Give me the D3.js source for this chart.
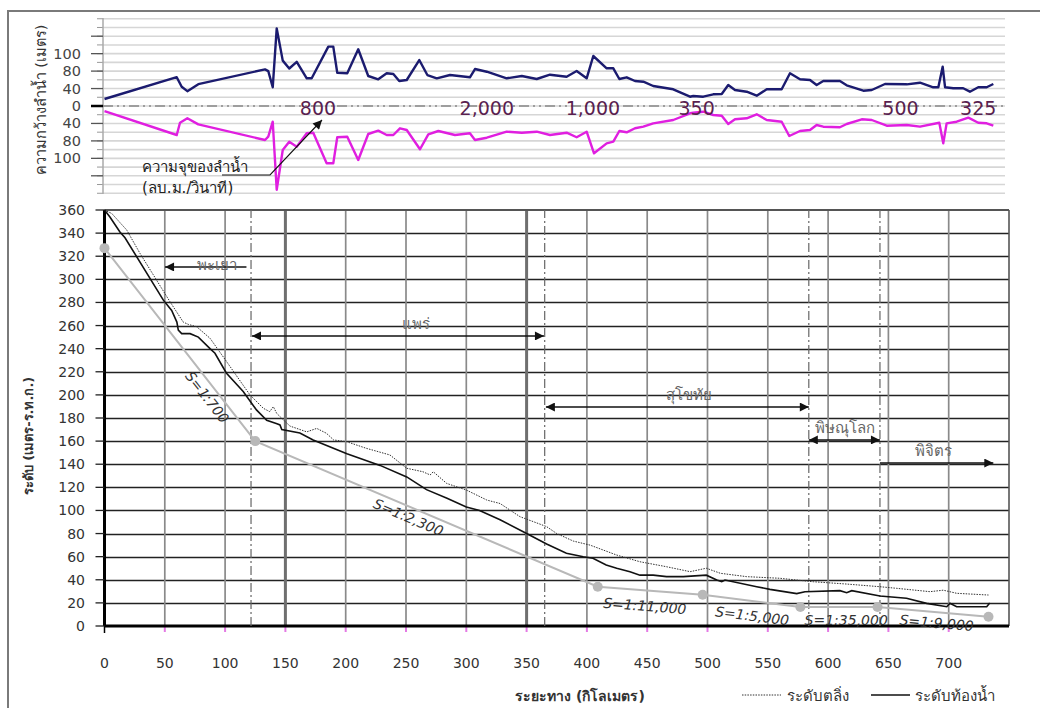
<!DOCTYPE html>
<html><head><meta charset="utf-8">
<script src="https://cdn.jsdelivr.net/npm/d3@7"></script>
<style>body{margin:0;background:#fff}svg{display:block}</style>
</head><body><svg id="c" width="1040" height="708"></svg>
<script>
// ---------- DATA ----------
// top panel: river width (upper, m) and lower mirrored series
const widthKm = [0,59.9,64,68.7,77.8,133.1,135.8,139.5,142.8,147.8,153.2,159.4,167.7,171.8,185.6,189.7,193,201.3,210.4,218.7,227,234,239.5,244.4,250.6,261,267.7,275.5,286.5,303,307.2,317,333.5,346,358.4,369.4,383.2,391.5,399.8,405.3,416.4,421.9,426.9,433,439.9,446.8,455,471.6,485.5,488.2,496.5,504.8,511.8,517.2,522.8,532.5,540.8,549.1,561.5,568.4,576.7,585,590.5,596,609.8,615.4,629.2,636.2,647.2,665.2,676.2,687.2,691.4,695,697,703.8,712,717.6,724.5,731.5,737];
const widthM  = [16,66,44,34,50,82,80,43,129,92,83,90.6,63.5,63.5,108,108,76.3,75,105,68.8,61.2,75,73.3,57.3,59.6,92.7,71,63.5,71,65.8,82.4,78.6,63.5,68.8,61.9,71.7,67.2,80.1,63.5,97.3,83.2,83.2,61.9,65.8,57.3,55.7,45.8,38.3,21.3,22.9,21.3,26.8,27.5,48.1,36.7,32.8,23.6,38.3,38.3,75,61.2,59.6,48.1,57.3,57.3,47.4,35,36.7,50.4,49.7,53.4,42.9,42.9,85,42.9,40.6,40.6,32.8,42.9,42.9,50.4];
const lowerKm = [0,59.9,62.6,68.7,77.8,133.1,135.8,139.5,142.8,147.8,153.2,159.4,167.7,173.1,184.2,189.7,193,201.3,210.4,218.7,227,234,239.5,245,250.6,261.6,268.5,276.8,290.6,303,307.2,317,333.5,346,358.4,369.4,383.2,391.5,399.8,405.9,416.4,421.9,426.9,433,439.9,446.8,455,471.6,485.5,488.2,496.5,504.8,511.8,517.2,522.8,532.5,540.8,549.1,561.5,567.8,576.7,585,590.5,596,609.8,615.4,627.9,636.2,648.6,665.2,676.2,692.2,695.5,698.3,706.6,716.3,724.5,731.5,737];
const lowerM  = [11.5,66.5,38.3,28.2,42,77.9,70.4,36,136,90.4,80.9,86.6,62.6,61.2,105.7,105.7,71.7,70.4,101.9,64.2,56.6,66.5,66.5,51.1,55,89.6,64.9,57.3,66.5,62.6,77.9,72.7,58.9,61.2,58.9,66.5,61.2,71.7,58.9,94.2,82.8,80.9,57.3,60.3,51.1,47.4,39.7,32.1,16.7,15.4,13.1,20.6,22.2,41.3,30.5,28.2,19,32.1,36,68.8,57.3,55,43.5,47.4,48.8,41.3,30.5,32.1,45.2,43.5,47.4,38.3,82.8,39.7,36,26.8,38.3,39.7,45.2];
const topTickVals   = [-120,-100,-80,-40,0,40,80,100,120];
const topTickLabels = ["","100","80","40","0","40","80","100",""];
const capLabels = ["800","2,000","1,000","350","500","325"];
const capKm     = [177,317,405,491,660,724.5];

// main panel
const bedKm = [0,4.5,12.8,17,48.8,55.7,60,61.2,64,71,77.8,87.5,91.6,101,115,126,134.5,143,145.5,147,162,173,201,228.5,250.6,267,284,300,311,328,350,366.6,383,397,405,416,424.7,435.7,444,455,466,480,499,507.7,511.8,514.5,540.8,551.8,574,580.8,609.8,615.4,619.6,643,665,681.7,698.4,701,706.6,731.5,734];
const bedM  = [360,354,341,336,282,273,263,256,253,253,250,240,236,219,203,187,178,175,174,170,167,161,149,139,129,118,110.5,103,100,92,80,71,63,60,58.6,52.8,50,47,44,44,42.7,42.7,44,39.8,38.3,39.8,34,31.7,28,29.7,30.6,28.8,30.6,26,24,19.6,16.7,19.6,16.7,16.7,20];
const bankKm = [0,6,18.4,29.4,54.3,65.3,69.5,76.4,87.5,101.3,120.6,131.7,137,140,142.8,147,153.8,167.7,176,184,190,200.8,217,236.7,250.6,264,270,272.6,283.7,300,317,328,344.5,355.6,366.6,375,388.7,402.6,424.7,444,466,485.6,499,510.7,532.5,560,587.7,615.4,643,657,684.5,695.5,706.6,733];
const bankM  = [360,357,342.7,322.5,280.6,263,261,259,249,228.7,200,188.4,185.5,189.8,184,179.7,173,168,171,166.8,161,159.5,153.8,148,136.5,133.5,130.7,133.5,123.4,117.7,109,106,94.6,90.3,86,80,73.5,70,61.4,55.6,51.3,47,50,45.6,42.7,41.3,38.3,36.3,34,32.6,29.7,31,28.3,26.8];
const slopeKm = [0,125,409,496,577,641,733];
const slopeM  = [327,160,34,27,16.5,16.5,8];
const slopeLabels = ["S=1:700","S=1:2,300","S=1:11,000","S=1:5,000","S=1:35,000","S=1:9,000"];
const slopeLabelKm = [85,252,448,537,615,690];
const slopeLabelM  = [198,94,17.3,8.7,5.2,2.6];
const xTicks = [0,50,100,150,200,250,300,350,400,450,500,550,600,650,700];
const yTicks = [0,20,40,60,80,100,120,140,160,180,200,220,240,260,280,300,320,340,360];
const boundaryKm = [121.5,365,584,643];
const provinces = ["พะเยา","แพร่","สุโขทัย","พิษณุโลก","พิจิตร"];
const provFrom  = [117.7,122.3,366,584,643];
const provTo    = [50.2,364.4,584,643,737];
const provM     = [310.7,251,189.5,161,141];
const provBoth  = [false,true,true,true,false];
const provLabelKm = [93,258,485,614,687];

// ---------- DRAW ----------
const svg = d3.select("#c");
const FONT = "Tahoma, 'DejaVu Sans', 'Noto Sans', sans-serif";
svg.append("rect").attr("width",1040).attr("height",708).attr("fill","#fff");
svg.append("rect").attr("x",8).attr("y",11).attr("width",1060).attr("height",720)
  .attr("fill","none").attr("stroke","#7a7a7a").attr("stroke-width",2);

const defs = svg.append("defs");
defs.append("marker").attr("id","ah").attr("viewBox","0 0 10 10").attr("refX",10).attr("refY",5)
  .attr("markerWidth",12).attr("markerHeight",9).attr("markerUnits","userSpaceOnUse").attr("orient","auto-start-reverse")
  .append("path").attr("d","M0,0 L10,5 L0,10 Z").attr("fill","#111");

const x = d3.scaleLinear().domain([0,750]).range([104.5,1009]);
const y = d3.scaleLinear().domain([0,360]).range([626,210]);
const topStep = 17.45;
const yTop = d3.scaleLinear().domain(topTickVals).range(topTickVals.map((v,i)=>106+(4-i)*topStep));

// ----- top panel -----
const tp = svg.append("g");
const half = topStep/2;
for (let k=-10;k<=10;k++){
  tp.append("line").attr("x1",103).attr("x2",1005).attr("y1",yTop(0)+k*half).attr("y2",yTop(0)+k*half)
    .attr("stroke","#d6d6d6").attr("stroke-width",1.6);
  tp.append("line").attr("x1",97).attr("x2",103).attr("y1",yTop(0)+k*half).attr("y2",yTop(0)+k*half)
    .attr("stroke","#999").attr("stroke-width",1);
}
tp.append("line").attr("x1",103).attr("x2",103).attr("y1",18).attr("y2",194).attr("stroke","#aaa").attr("stroke-width",1.5);
topTickVals.forEach((v,i)=>{
  tp.append("line").attr("x1",91).attr("x2",103).attr("y1",yTop(v)).attr("y2",yTop(v))
    .attr("stroke", v===0?"#000":"#555").attr("stroke-width", v===0?2.5:1.3);
  tp.append("text").attr("x",81).attr("y",yTop(v)+5).attr("text-anchor","end")
    .attr("font-family",FONT).attr("font-size",14.5).attr("fill","#444").text(topTickLabels[i]);
});
tp.append("line").attr("x1",103).attr("x2",1005).attr("y1",yTop(0)).attr("y2",yTop(0))
  .attr("stroke","#888").attr("stroke-width",1.3).attr("stroke-dasharray","10 4 2 4 2 4");
const topLine = d3.line().x(d=>x(d[0])).y(d=>yTop(d[1]));
tp.append("path").attr("d",topLine(widthKm.map((k,i)=>[k,widthM[i]])))
  .attr("fill","none").attr("stroke","#1b1b6f").attr("stroke-width",2.4).attr("stroke-linejoin","round");
tp.append("path").attr("d",topLine(lowerKm.map((k,i)=>[k,-lowerM[i]])))
  .attr("fill","none").attr("stroke","#e01fe0").attr("stroke-width",2.4).attr("stroke-linejoin","round");
capLabels.forEach((t,i)=>{
  tp.append("text").attr("x",x(capKm[i])).attr("y",yTop(0)+9).attr("text-anchor","middle")
    .attr("font-family",FONT).attr("font-size",19).attr("fill","#5a1f50").text(t);
});
tp.append("text").attr("x",142).attr("y",172).attr("font-family",FONT).attr("font-size",15).attr("fill","#222").text("ความจุของลำน้ำ");
tp.append("text").attr("x",142).attr("y",193).attr("font-family",FONT).attr("font-size",15).attr("fill","#222").text("(ลบ.ม./วินาที)");
tp.append("path").attr("d","M222,175 L270,175 L322,120").attr("fill","none").attr("stroke","#111").attr("stroke-width",1.1)
  .attr("marker-end","url(#ah)");
tp.append("text").attr("transform","translate(46,100) rotate(-90)").attr("text-anchor","middle")
  .attr("font-family",FONT).attr("font-size",14.5).attr("fill","#333").text("ความกว้างลำน้ำ (เมตร)");

// ----- main panel -----
const mp = svg.append("g");
yTicks.filter(v=>v>0 && v<360).forEach(v=>{
  mp.append("line").attr("x1",x(0)).attr("x2",x(750)).attr("y1",Math.round(y(v))+0.5).attr("y2",Math.round(y(v))+0.5)
    .attr("stroke","#222").attr("stroke-width",1.3);
});
xTicks.filter(v=>v>0).forEach(v=>{
  const thick = (v===150||v===350);
  mp.append("line").attr("x1",x(v)).attr("x2",x(v)).attr("y1",y(0)).attr("y2",y(360))
    .attr("stroke", thick?"#6f6f6f":"#8a8a8a").attr("stroke-width", thick?3:1.7);
  mp.append("line").attr("x1",x(v)).attr("x2",x(v)).attr("y1",y(0)+1).attr("y2",y(0)+6)
    .attr("stroke","#e47ae4").attr("stroke-width",2);
});
mp.append("line").attr("x1",x(0)).attr("x2",x(750)).attr("y1",y(360)).attr("y2",y(360)).attr("stroke","#555").attr("stroke-width",2);
mp.append("line").attr("x1",x(750)).attr("x2",x(750)).attr("y1",y(0)).attr("y2",y(360)).attr("stroke","#555").attr("stroke-width",1.6);
mp.append("line").attr("x1",x(0)).attr("x2",x(750)).attr("y1",y(0)).attr("y2",y(0)).attr("stroke","#000").attr("stroke-width",3);
mp.append("line").attr("x1",x(0)).attr("x2",x(0)).attr("y1",y(0)).attr("y2",y(360)).attr("stroke","#000").attr("stroke-width",3);
mp.append("line").attr("x1",x(0)).attr("x2",x(0)).attr("y1",y(0)).attr("y2",y(0)+7).attr("stroke","#000").attr("stroke-width",1.5);
yTicks.forEach(v=>{
  mp.append("line").attr("x1",x(0)-9).attr("x2",x(0)).attr("y1",y(v)).attr("y2",y(v)).attr("stroke","#222").attr("stroke-width",1.3);
  mp.append("text").attr("x",85).attr("y",y(v)+5).attr("text-anchor","end")
    .attr("font-family",FONT).attr("font-size",14).attr("fill","#333").text(v);
});
xTicks.forEach(v=>{
  mp.append("text").attr("x",x(v)).attr("y",668).attr("text-anchor","middle")
    .attr("font-family",FONT).attr("font-size",14).attr("fill","#333").text(v);
});
boundaryKm.forEach(k=>{
  mp.append("line").attr("x1",x(k)).attr("x2",x(k)).attr("y1",y(0)).attr("y2",y(360))
    .attr("stroke","#666").attr("stroke-width",1.2).attr("stroke-dasharray","9 3 2 3");
});
const ml = d3.line().x(d=>x(d[0])).y(d=>y(d[1]));
const slopePts = slopeKm.map((k,i)=>[k,slopeM[i]]);
mp.append("path").attr("d",ml(slopePts)).attr("fill","none").attr("stroke","#b8b8b8").attr("stroke-width",2);
mp.selectAll(".sd").data(slopePts).enter().append("circle").attr("cx",d=>x(d[0])).attr("cy",d=>y(d[1])).attr("r",5).attr("fill","#b8b8b8");
mp.append("path").attr("d",ml(bankKm.map((k,i)=>[k,bankM[i]]))).attr("fill","none").attr("stroke","#333").attr("stroke-width",1).attr("stroke-dasharray","1.5 1.2");
mp.append("path").attr("d",ml(bedKm.map((k,i)=>[k,bedM[i]]))).attr("fill","none").attr("stroke","#111").attr("stroke-width",1.6);

slopeLabels.forEach((t,i)=>{
  const a = slopePts[i], b = slopePts[i+1];
  const ang = Math.atan2(y(b[1])-y(a[1]), x(b[0])-x(a[0]))*180/Math.PI;
  mp.append("text").attr("transform",`translate(${x(slopeLabelKm[i])},${y(slopeLabelM[i])}) rotate(${ang})`)
    .attr("text-anchor","middle").attr("dy","0.35em").attr("font-family",FONT).attr("font-style","italic")
    .attr("font-size",14).attr("fill","#333").text(t);
});

provinces.forEach((p,i)=>{
  const ln = mp.append("line").attr("x1",x(provFrom[i])).attr("x2",x(provTo[i])).attr("y1",y(provM[i])).attr("y2",y(provM[i]))
    .attr("stroke","#111").attr("stroke-width",1.4).attr("marker-end","url(#ah)");
  if (provBoth[i]) ln.attr("marker-start","url(#ah)");
  mp.append("text").attr("x",x(provLabelKm[i])).attr("y",y(provM[i])-(i===0?-3:7)).attr("text-anchor","middle")
    .attr("font-family",FONT).attr("font-size",15).attr("fill","#666").text(p);
});

// axis titles
svg.append("text").attr("transform","translate(33,436) rotate(-90)").attr("text-anchor","middle")
  .attr("font-family",FONT).attr("font-size",13).attr("font-weight","bold").attr("fill","#333").text("ระดับ (เมตร-ร.ท.ก.)");
svg.append("text").attr("x",580).attr("y",701).attr("text-anchor","middle")
  .attr("font-family",FONT).attr("font-size",14).attr("font-weight","bold").attr("fill","#333").text("ระยะทาง (กิโลเมตร)");
// legend
svg.append("line").attr("x1",742).attr("x2",781).attr("y1",695).attr("y2",695).attr("stroke","#333").attr("stroke-width",1).attr("stroke-dasharray","1.5 1.2");
svg.append("text").attr("x",787).attr("y",701).attr("font-family",FONT).attr("font-size",15).attr("fill","#333").text("ระดับตลิ่ง");
svg.append("line").attr("x1",871).attr("x2",910).attr("y1",695).attr("y2",695).attr("stroke","#111").attr("stroke-width",1.4);
svg.append("text").attr("x",915).attr("y",701).attr("font-family",FONT).attr("font-size",15).attr("fill","#333").text("ระดับท้องน้ำ");
</script></body></html>
